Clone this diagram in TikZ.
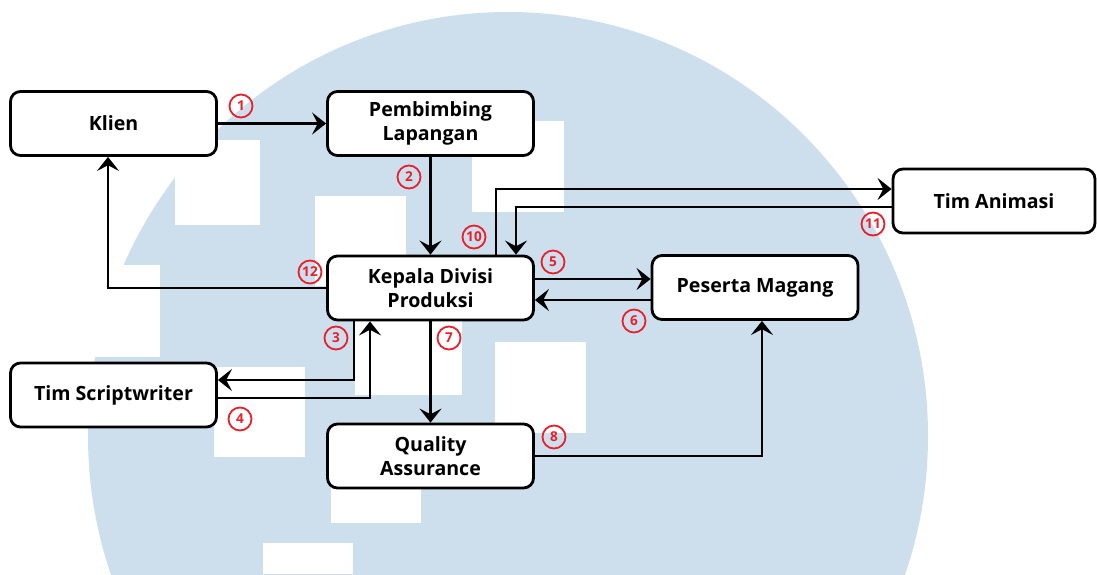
\documentclass[tikz,border=0pt]{standalone}
\usepackage{fontspec}
\setmainfont{Open Sans}
\usetikzlibrary{arrows.meta}

\definecolor{wmblue}{RGB}{205,223,237}
\definecolor{numred}{RGB}{232,32,44}

\tikzset{
	box/.style={draw, line width=1.4pt, rounded corners=5pt, fill=white, minimum width=103pt, minimum height=32pt, inner sep=0pt, align=center, font=\fontsize{9.8}{11.8}\selectfont\bfseries},
	num/.style={circle, draw=numred, text=numred, line width=0.9pt, minimum size=11.5pt, inner sep=0pt, font=\fontsize{6.8}{6.8}\selectfont\bfseries},
	flow/.style={line width=1.2pt, -{Stealth[length=7pt,width=11pt,inset=2.8pt]}}
}

\begin{document}
\begin{tikzpicture}[x=0.5pt, y=-0.5pt]
		\useasboundingbox (0,0) rectangle (1097,574);
		% watermark
		\fill[wmblue] (508,436) ellipse [x radius=420, y radius=424];
		\fill[white] (175,140) rectangle (260,225);
		\fill[white] (70,265) rectangle (160,357);
		\fill[white] (315,196) rectangle (406,286);
		\fill[white] (355,300) rectangle (462,395);
		\fill[white] (472,121) rectangle (564,212);
		\fill[white] (495,342) rectangle (586,433);
		\fill[white] (214,367) rectangle (305,457);
		\fill[white] (331,440) rectangle (421,523);
		\fill[white] (263,543) rectangle (353,574);

		% boxes
		\node[box] (klien) at (113.5,123.5) {Klien};
		\node[box] (pl) at (430.5,123.5) {Pembimbing\\Lapangan};
		\node[box] (kdp) at (430.5,288) {Kepala Divisi\\Produksi};
		\node[box] (qa) at (430.5,456) {Quality\\Assurance};
		\node[box] (tsw) at (113.5,395) {Tim Scriptwriter};
		\node[box] (pm) at (755,287.5) {Peserta Magang};
		\node[box, minimum width=101pt] (ta) at (994,201) {Tim Animasi};

		% bends
		\coordinate (b3) at (354,380);
		\coordinate (b4) at (370,398);
		\coordinate (b5) at (590,279);
		\coordinate (b6) at (590,300);
		\coordinate (b8) at (762,456);
		\coordinate (b10) at (496,189);
		\coordinate (b11) at (516,207);
		\coordinate (b12) at (108,288);

		\draw[flow] (klien.east) -- (pl.west);
		\draw[flow] (pl.south) -- (kdp.north);
		\draw[flow] (b3 |- kdp.south) -- (b3) -- (b3 -| tsw.east);
		\draw[flow] (b4 -| tsw.east) -- (b4) -- (b4 |- kdp.south);
		\draw[flow] (b5 -| kdp.east) -- (b5 -| pm.west);
		\draw[flow] (b6 -| pm.west) -- (b6 -| kdp.east);
		\draw[flow] (kdp.south) -- (qa.north);
		\draw[flow] (qa.east) -- (b8) -- (b8 |- pm.south);
		\draw[flow] (b10 |- kdp.north) -- (b10) -- (b10 -| ta.west);
		\draw[flow] (b11 -| ta.west) -- (b11) -- (b11 |- kdp.north);
		\draw[flow] (kdp.west) -- (b12) -- (b12 |- klien.south);

		% step numbers
		\node[num] (n1) at (241,106) {1};
		\node[num] (n2) at (409,177) {2};
		\node[num] (n3) at (336,338) {3};
		\node[num] (n4) at (240,419) {4};
		\node[num] (n5) at (553,262) {5};
		\node[num] (n6) at (634,321) {6};
		\node[num] (n7) at (449,338) {7};
		\node[num] (n8) at (554,437) {8};
		\node[num] (n10) at (474,237) {10};
		\node[num] (n11) at (873,224) {11};
		\node[num] (n12) at (310,272) {12};
\end{tikzpicture}
\end{document}
